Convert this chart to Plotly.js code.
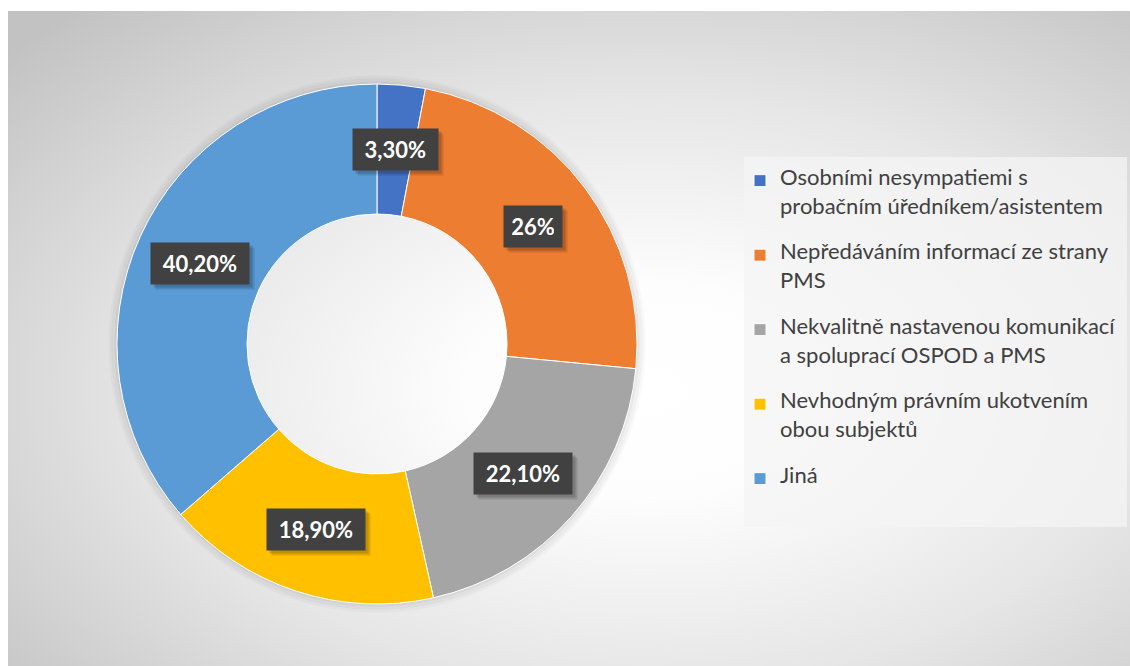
<!DOCTYPE html>
<html><head><meta charset="utf-8">
<script src="https://cdn.plot.ly/plotly-3.0.1.min.js"></script>
<style>
html,body{margin:0;padding:0;background:#fff;width:1130px;height:666px;overflow:hidden}
#bg{position:absolute;left:8px;top:11px;width:1122px;height:655px;
background:radial-gradient(ellipse farthest-corner at 57% 58%, #ffffff 0%, #fdfdfd 20%, #e6e6e6 55%, #c2c2c2 95%)}
#chart{position:absolute;left:0;top:0;width:1130px;height:666px}
</style></head><body>
<div id="bg"></div><div id="chart"></div>
<script>
// ---- data ----
const categoryLines = [
  ['Osobními nesympatiemi s', 'probačním úředníkem/asistentem'],
  ['Nepředáváním informací ze strany', 'PMS'],
  ['Nekvalitně nastavenou komunikací', 'a spoluprací OSPOD a PMS'],
  ['Nevhodným právním ukotvením', 'obou subjektů'],
  ['Jiná']
];
const values = [3.3, 26, 22.1, 18.9, 40.2];
const valueLabels = ['3,30%', '26%', '22,10%', '18,90%', '40,20%'];
const colors = ['#4472C4', '#ED7D31', '#A5A5A5', '#FFC000', '#5B9BD5'];

// ---- layout constants ----
const W = 1130, H = 666;
const FONT = 'Lato, "Open Sans", "Liberation Sans", sans-serif';
const pieBox = {l: 117, r: 637, t: 84, b: 604};
const domain = {x: [pieBox.l / W, pieBox.r / W], y: [1 - pieBox.b / H, 1 - pieBox.t / H]};
const hole = 0.5;

// legend labels: big text lines spaced with blank lines (small legend font sets line pitch)
const legendLabels = categoryLines.map(lines =>
  lines.map(l => '<span style="font-size:22px">' + l + '</span>').join('<br>&nbsp;<br>') +
  '<br>&nbsp;<br>&nbsp;');

// label positions from the data (mid-angle on ring centre)
const total = values.reduce((a, b) => a + b, 0);
const cxPx = (pieBox.l + pieBox.r) / 2, cyPx = (pieBox.t + pieBox.b) / 2;
const rPx = Math.min(pieBox.r - pieBox.l, pieBox.b - pieBox.t) / 2;
const rMid = rPx * (1 + hole) / 2;
let cum = 0;
const annotations = [];
const shadowAnn = [];
values.forEach((v, i) => {
  const th = (cum + v / 2) / total * 2 * Math.PI;
  cum += v;
  const x = (cxPx + rMid * Math.sin(th)) / W;
  const y = 1 - (cyPx - rMid * Math.cos(th)) / H;
  const boxW = valueLabels[i].length * 13.3 + 2;
  const base = {xref: 'paper', yref: 'paper', x, y, showarrow: false,
    xanchor: 'center', yanchor: 'middle', borderpad: 8, width: boxW, height: 25};
  shadowAnn.push(Object.assign({}, base, {text: '&nbsp;', bgcolor: 'rgba(0,0,0,0.12)', xshift: 5, yshift: -5,
    font: {family: FONT, size: 12, color: 'rgba(0,0,0,0)'}}));
  shadowAnn.push(Object.assign({}, base, {text: '&nbsp;', bgcolor: 'rgba(0,0,0,0.15)', xshift: 3, yshift: -3,
    font: {family: FONT, size: 12, color: 'rgba(0,0,0,0)'}}));
  annotations.push(Object.assign({}, base, {text: valueLabels[i], bgcolor: '#414141',
    font: {family: FONT, size: 22, color: '#ffffff', weight: 'bold'}}));
});

function ring(pad, w, color) {
  const rr = rPx + pad;
  return {type: 'circle', xref: 'paper', yref: 'paper', layer: 'below',
    x0: (cxPx - rr) / W, x1: (cxPx + rr) / W,
    y0: 1 - (cyPx + rr) / H, y1: 1 - (cyPx - rr) / H,
    fillcolor: 'rgba(0,0,0,0)', line: {width: w, color: color}};
}

const shapes = [
  ring(4, 9, 'rgba(0,0,0,0.025)'), ring(3, 6, 'rgba(0,0,0,0.03)'), ring(1, 3, 'rgba(0,0,0,0.04)'),
  {type: 'rect', xref: 'paper', yref: 'paper', layer: 'below',
   x0: 744 / W, x1: 1127 / W, y0: 1 - 527 / H, y1: 1 - 157 / H,
   fillcolor: 'rgba(244,244,244,0.75)', line: {width: 0}}
];

const trace = {
  type: 'pie', labels: legendLabels, values: values, sort: false,
  direction: 'clockwise', rotation: 0, hole: hole,
  marker: {colors: colors, line: {color: '#ffffff', width: 1}},
  textinfo: 'none', hoverinfo: 'none', domain: domain
};

const layout = {
  width: W, height: H, margin: {l: 0, r: 0, t: 0, b: 0, pad: 0},
  paper_bgcolor: 'rgba(0,0,0,0)', plot_bgcolor: 'rgba(0,0,0,0)',
  showlegend: true,
  legend: {x: 740 / W, xanchor: 'left', y: 1 - 167 / H, yanchor: 'top',
    bgcolor: 'rgba(0,0,0,0)', valign: 'top', traceorder: 'normal',
    font: {family: FONT, size: 11, color: '#404040'}},
  shapes: shapes,
  annotations: shadowAnn.concat(annotations)
};

Plotly.newPlot('chart', [trace], layout, {displayModeBar: false, staticPlot: true});
</script>
</body></html>
